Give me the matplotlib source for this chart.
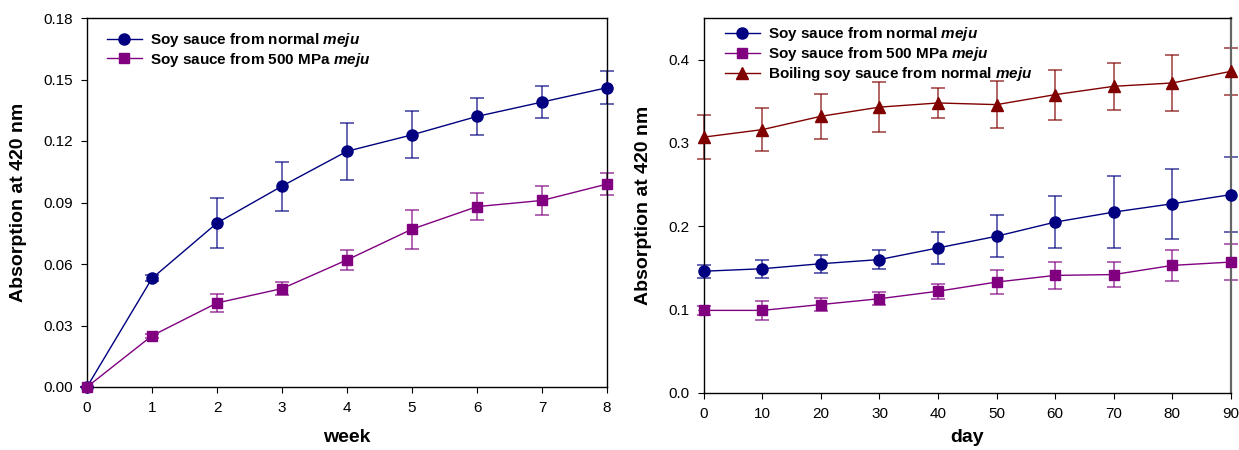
import matplotlib
matplotlib.use("Agg")
import matplotlib.pyplot as plt
import numpy as np

plt.rcParams['font.family'] = ['Liberation Sans', 'DejaVu Sans']
plt.rcParams['mathtext.fontset'] = 'custom'
plt.rcParams['mathtext.rm'] = 'Liberation Sans'
plt.rcParams['mathtext.bf'] = 'Liberation Sans:bold'
plt.rcParams['mathtext.it'] = 'Liberation Sans:italic'
plt.rcParams['mathtext.bfit'] = 'Liberation Sans:bold:italic'

# Weekly absorbance (left panel)
weeks = [0, 1, 2, 3, 4, 5, 6, 7, 8]
normal_week = [0.000, 0.053, 0.080, 0.098, 0.115, 0.123, 0.132, 0.139, 0.146]
normal_week_err = [0.000, 0.0015, 0.012, 0.012, 0.014, 0.0115, 0.009, 0.008, 0.008]
mpa_week = [0.000, 0.025, 0.041, 0.048, 0.062, 0.077, 0.088, 0.091, 0.099]
mpa_week_err = [0.000, 0.001, 0.0045, 0.003, 0.005, 0.0095, 0.0065, 0.007, 0.0055]

# Daily absorbance during storage (right panel)
days = [0, 10, 20, 30, 40, 50, 60, 70, 80, 90]
normal_day = [0.146, 0.149, 0.155, 0.160, 0.174, 0.188, 0.205, 0.217, 0.227, 0.238]
normal_day_err = [0.008, 0.011, 0.011, 0.011, 0.019, 0.025, 0.031, 0.043, 0.042, 0.045]
mpa_day = [0.099, 0.099, 0.106, 0.113, 0.122, 0.133, 0.141, 0.142, 0.153, 0.157]
mpa_day_err = [0.005, 0.011, 0.008, 0.008, 0.009, 0.014, 0.016, 0.015, 0.019, 0.022]
boil_day = [0.307, 0.316, 0.332, 0.343, 0.348, 0.346, 0.358, 0.368, 0.372, 0.386]
boil_day_err = [0.026, 0.026, 0.027, 0.030, 0.018, 0.028, 0.030, 0.028, 0.034, 0.028]

lbl_normal = r"Soy sauce from normal $\mathbfit{meju}$"
lbl_mpa = r"Soy sauce from 500 MPa $\mathbfit{meju}$"
lbl_boil = r"Boiling soy sauce from normal $\mathbfit{meju}$"

NAVY = '#000080'
PURPLE = '#800080'
DRED = '#800000'

fig = plt.figure(figsize=(12.39, 4.5), dpi=100)
ax1 = fig.add_axes([0.0702, 0.14, 0.4198, 0.82])
ax2 = fig.add_axes([0.568, 0.127, 0.4255, 0.833])


def series(ax, x, y, e, color, marker, label, ms):
    ax.errorbar(x, y, yerr=e, fmt='none', ecolor=color, alpha=0.7,
                elinewidth=1.2, capsize=5, capthick=1.2, zorder=2)
    ax.plot(x, y, color=color, lw=1.0, marker=marker, ms=ms,
            markerfacecolor=color, markeredgecolor=color, label=label, zorder=3)


series(ax1, weeks, normal_week, normal_week_err, NAVY, 'o', lbl_normal, 8)
series(ax1, weeks, mpa_week, mpa_week_err, PURPLE, 's', lbl_mpa, 7)

series(ax2, days, normal_day, normal_day_err, NAVY, 'o', lbl_normal, 8)
series(ax2, days, mpa_day, mpa_day_err, PURPLE, 's', lbl_mpa, 7)
series(ax2, days, boil_day, boil_day_err, DRED, '^', lbl_boil, 8)

ax1.set_xlim(0, 8)
ax1.set_ylim(0, 0.18)
ax1.set_xticks(weeks)
ax1.set_yticks(np.arange(0, 0.181, 0.03))
ax1.set_yticklabels([f"{v:.2f}" for v in np.arange(0, 0.181, 0.03)])
ax1.set_xlabel("week", fontsize=14, fontweight='bold', labelpad=10)

ax2.set_xlim(0, 90)
ax2.set_ylim(0, 0.45)
ax2.set_xticks(days)
ax2.set_yticks([0.0, 0.1, 0.2, 0.3, 0.4])
ax2.set_yticklabels(["0.0", "0.1", "0.2", "0.3", "0.4"])
ax2.set_xlabel("day", fontsize=14, fontweight='bold', labelpad=6)

for ax in (ax1, ax2):
    ax.tick_params(axis='both', direction='out', length=4, labelsize=11,
                   top=False, right=False, pad=6)
    for sp in ax.spines.values():
        sp.set_linewidth(1.0)

ax1.set_ylabel("Absorption at 420 nm", fontsize=14, fontweight='bold', labelpad=12)
ax2.set_ylabel("Absorption at 420 nm", fontsize=14, fontweight='bold', labelpad=12)

for artist in ax1.get_children() + ax2.get_children():
    try:
        artist.set_clip_on(False)
    except Exception:
        pass

ax2.spines['right'].set_color('#666666')
ax2.spines['right'].set_linewidth(1.6)

leg_kw = dict(frameon=False, handlelength=2.3, handletextpad=0.5,
              borderaxespad=0.0, borderpad=0.0, labelspacing=0.12,
              prop={'weight': 'bold', 'size': 11})
ax1.legend(loc='upper left', bbox_to_anchor=(0.038, 0.965), **leg_kw)
ax2.legend(loc='upper left', bbox_to_anchor=(0.04, 0.98), **leg_kw)

fig.savefig("out.png", dpi=100)
